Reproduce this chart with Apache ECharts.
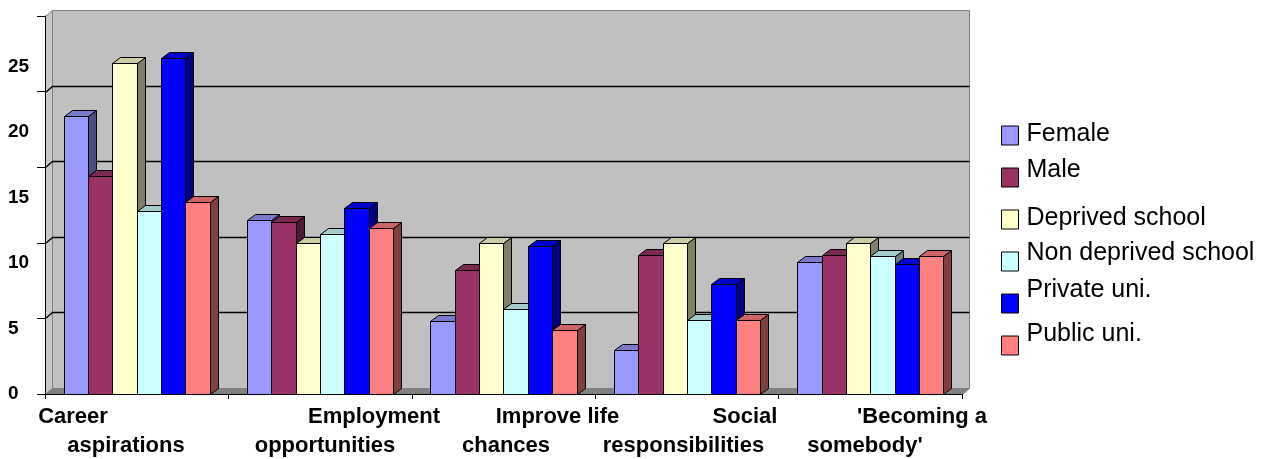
<!DOCTYPE html>
<html>
<head>
<meta charset="utf-8">
<script src="https://cdn.jsdelivr.net/npm/echarts@6/dist/echarts.min.js"></script>
<style>
  html, body { margin: 0; padding: 0; background: #ffffff; }
  #chart { width: 1265px; height: 459px; }
</style>
</head>
<body>
<div id="chart"></div>
<script>
// ---- data ----
const categories = [
  "Career\naspirations",
  "Employment\nopportunities",
  "Improve life\nchances",
  "Social\nresponsibilities",
  "'Becoming a\nsomebody'"
];
const seriesNames = ["Female", "Male", "Deprived school", "Non deprived school", "Private uni.", "Public uni."];
const female      = [18.4, 11.5, 4.8, 2.9, 8.7];
const male        = [14.4, 11.4, 8.2, 9.2, 9.2];
const deprived    = [21.9, 10.0, 10.0, 10.0, 10.0];
const nonDeprived = [12.1, 10.6, 5.6, 4.9, 9.1];
const privateUni  = [22.2, 12.3, 9.8, 7.3, 8.6];
const publicUni   = [12.7, 11.0, 4.2, 4.9, 9.1];
const valueTicks  = [0, 5, 10, 15, 20, 25];

const seriesValues = [female, male, deprived, nonDeprived, privateUni, publicUni];

// ---- styling / layout ----
const FONT = "'Liberation Sans', Arial, Helvetica, sans-serif";
const seriesColors = ["#9999FF", "#993366", "#FFFFCC", "#CCFFFF", "#0000FF", "#FF8080"];
const BAR_DEPTH = [8, -6];      // projected depth of each column
const WALL_DEPTH = [7, -6];     // projected depth of walls and floor
const BAR_FRACTION = 0.133;     // column width as a share of the category band
const Y_MAX = 25;
const LABEL_AXIS_MAX = 28.88;   // value-label axis spacing
// horizontal shift of each label line (first, second) from the band centre
const labelShift = [[-63.7, -10.7], [53.9, 4.9], [54.0, 2.5], [58.1, -3.4], [51.7, -5.3]];
const legendTop = 123, legendStep = 42;
const legendLift = [1.5, 7.5, 1, 8.5, 13, 11];

function shade(hex, k) {
  const n = parseInt(hex.slice(1), 16);
  const r = Math.round(((n >> 16) & 255) * k);
  const g = Math.round(((n >> 8) & 255) * k);
  const b = Math.round((n & 255) * k);
  return "rgb(" + r + "," + g + "," + b + ")";
}
const px = v => Math.round(v) + 0.5;

// back wall, side wall, floor and gridlines of the 3-D box
function renderWalls(params, api) {
  const cs = params.coordSys;
  const x0 = px(cs.x), x1 = px(cs.x + cs.width);
  const y0 = px(api.coord([0, 0])[1]);
  const yT = px(api.coord([0, Y_MAX])[1]);
  const [dx, dy] = WALL_DEPTH;
  const edge = { stroke: "#808080", lineWidth: 1 };
  const children = [
    { type: "polygon", shape: { points: [[x0 + dx, yT + dy], [x1 + dx, yT + dy], [x1 + dx, y0 + dy], [x0 + dx, y0 + dy]] },
      style: Object.assign({ fill: "#C0C0C0" }, edge) },
    { type: "polygon", shape: { points: [[x0, y0], [x0, yT], [x0 + dx, yT + dy], [x0 + dx, y0 + dy]] },
      style: Object.assign({ fill: "#C8C8C8" }, edge) },
    { type: "polygon", shape: { points: [[x0, y0], [x1, y0], [x1 + dx, y0 + dy], [x0 + dx, y0 + dy]] },
      style: Object.assign({ fill: "#808080" }, edge) }
  ];
  valueTicks.filter(v => v > 0 && v < Y_MAX).forEach(v => {
    const y = px(api.coord([0, v])[1]);
    children.push({ type: "polyline", shape: { points: [[x0, y], [x0 + dx, y + dy], [x1 + dx, y + dy]] },
      style: { stroke: "#000", lineWidth: 1.3, fill: null } });
  });
  return { type: "group", children: children };
}

function columnRenderer(si) {
  return function (params, api) {
    const ci = api.value(0), v = api.value(1);
    const base = api.coord([ci, 0]);
    const top = api.coord([ci, v]);
    const band = api.size([1, 0])[0];
    const bw = band * BAR_FRACTION;
    const start = base[0] - bw * seriesNames.length / 2;
    const xl = px(start + si * bw), xr = px(start + (si + 1) * bw);
    const yb = px(base[1]), yt = px(top[1]);
    const [dx, dy] = BAR_DEPTH;
    const c = seriesColors[si];
    const line = { stroke: "#000", lineWidth: 1 };
    return {
      type: "group",
      children: [
        { type: "polygon", shape: { points: [[xr, yt], [xr + dx, yt + dy], [xr + dx, yb + dy], [xr, yb]] },
          style: Object.assign({ fill: shade(c, 0.5) }, line) },
        { type: "polygon", shape: { points: [[xl, yt], [xr, yt], [xr + dx, yt + dy], [xl + dx, yt + dy]] },
          style: Object.assign({ fill: shade(c, 0.8) }, line) },
        { type: "rect", shape: { x: xl, y: yt, width: xr - xl, height: yb - yt },
          style: Object.assign({ fill: c }, line) }
      ]
    };
  };
}

// rich styles for the two-line category labels
const catRich = {};
labelShift.forEach((pair, i) => {
  pair.forEach((d, j) => {
    catRich["c" + i + "l" + j] = {
      fontFamily: FONT, fontSize: 22, fontWeight: "bold", color: "#000", lineHeight: 29, align: "center",
      padding: d >= 0 ? [0, 0, 0, 2 * d] : [0, -2 * d, 0, 0]
    };
  });
});

const chart = echarts.init(document.getElementById("chart"), null, { renderer: "canvas" });

const series = [{
  type: "custom",
  name: "walls",
  renderItem: renderWalls,
  data: [[0, 0]],
  xAxisIndex: 0, yAxisIndex: 0,
  silent: true, z: 1,
  legendHoverLink: false
}].concat(seriesNames.map((name, si) => ({
  type: "custom",
  name: name,
  renderItem: columnRenderer(si),
  data: seriesValues[si].map((v, i) => [i, v]),
  encode: { x: 0, y: 1 },
  xAxisIndex: 0, yAxisIndex: 0,
  itemStyle: { color: seriesColors[si], borderColor: "#000", borderWidth: 1 },
  z: 2 + si
})));

chart.setOption({
  animation: false,
  backgroundColor: "#ffffff",
  textStyle: { fontFamily: FONT },
  grid: { left: 45, right: 303, top: 16, bottom: 65, containLabel: false, outerBoundsMode: "none" },
  xAxis: {
    type: "category",
    data: categories,
    boundaryGap: true,
    z: 20,
    axisLine: { show: true, lineStyle: { color: "#000", width: 1 } },
    axisTick: { show: true, length: 5, lineStyle: { color: "#000" } },
    splitLine: { show: false },
    axisLabel: {
      interval: 0,
      margin: 8,
      fontFamily: FONT, fontSize: 22, fontWeight: "bold", color: "#000", lineHeight: 29,
      formatter: (value, idx) => value.split("\n").map((t, j) => "{c" + idx + "l" + j + "|" + t + "}").join("\n"),
      rich: catRich
    }
  },
  yAxis: [{
    type: "value", min: 0, max: Y_MAX, interval: 5, position: "left", z: 20,
    axisLine: { show: true, lineStyle: { color: "#000", width: 1 } },
    axisTick: { show: true, length: 8, lineStyle: { color: "#000" } },
    axisLabel: { show: false },
    splitLine: { show: false }
  }, {
    type: "value", min: 0, max: LABEL_AXIS_MAX, interval: 5, position: "left", z: 20,
    axisLine: { show: false },
    axisTick: { show: false },
    splitLine: { show: false },
    axisLabel: {
      show: true, align: "left", margin: 37, padding: [0, 0, 6, 0],
      fontFamily: FONT, fontSize: 19, fontWeight: "bold", color: "#000",
      showMaxLabel: false,
      formatter: v => (valueTicks.indexOf(v) >= 0 ? String(v) : "")
    }
  }],
  legend: seriesNames.map((name, i) => ({
    data: [{ name: name, icon: "rect" }],
    orient: "vertical",
    left: 1001,
    top: legendTop + i * legendStep - legendLift[i],
    padding: 0,
    itemWidth: 17,
    itemHeight: 19,
    itemGap: 0,
    selectedMode: false,
    itemStyle: { borderColor: "#000", borderWidth: 1 },
    textStyle: {
      fontFamily: FONT, fontSize: 25, color: "#000",
      rich: { t: { fontFamily: FONT, fontSize: 25, color: "#000", lineHeight: 19, padding: [0, 0, 2 * legendLift[i], 3] } }
    },
    formatter: n => "{t|" + n + "}"
  })),
  series: series
});
</script>
</body>
</html>
